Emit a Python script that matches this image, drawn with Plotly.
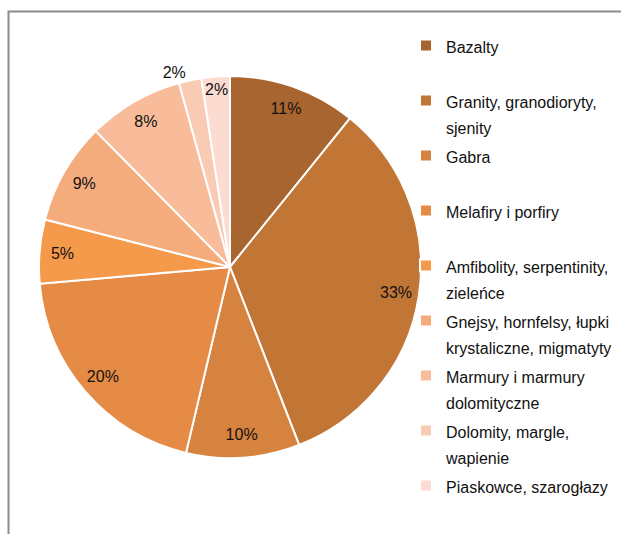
import plotly.graph_objects as go

labels = [
    "Bazalty",
    "Granity, granodioryty,<br>sjenity",
    "Gabra",
    "Melafiry i porfiry",
    "Amfibolity, serpentinity,<br>zieleńce",
    "Gnejsy, hornfelsy, łupki<br>krystaliczne, migmatyty",
    "Marmury i marmury<br>dolomityczne",
    "Dolomity, margle,<br>wapienie",
    "Piaskowce, szarogłazy",
]
values = [10.8, 33.3, 9.6, 19.9, 5.4, 8.6, 8.1, 1.9, 2.4]
colors = ["#A9652F", "#C27636", "#D6833F", "#E68B45", "#F5994A",
          "#F5AC7D", "#F8BC9A", "#F9CBB4", "#FCDCD1"]
label_pos = ["inside"] * 7 + ["outside", "inside"]

FONT = "Liberation Sans Narrow, Arial Narrow, Liberation Sans, Arial, sans-serif"

def legend_text(s):
    t = s if "<br>" in s else s + "<br> "
    return "<span style='font-size:16px'>" + t + "</span>"

leg_labels = [legend_text(s) for s in labels]

W, H = 621, 534
cx, cy, R = 230, 267, 191
dom_x = [(cx - R) / W, (cx + R) / W]
dom_y = [1 - (cy + R) / H, 1 - (cy - R) / H]

fig = go.Figure()
fig.add_trace(go.Pie(
    labels=leg_labels, values=values, sort=False, direction="clockwise",
    rotation=0, marker=dict(colors=colors, line=dict(color="white", width=2)),
    textinfo="none", domain=dict(x=dom_x, y=dom_y), hoverinfo="percent",
))
fig.add_trace(go.Pie(
    labels=leg_labels, values=values, sort=False, direction="clockwise",
    rotation=0, hole=0.76, showlegend=False, hoverinfo="skip",
    marker=dict(colors=["rgba(0,0,0,0)"] * len(values), line=dict(width=0)),
    texttemplate="%{percent:.0%}", textposition=label_pos,
    insidetextorientation="horizontal",
    textfont=dict(family=FONT, size=16, color="#111111"),
    domain=dict(x=dom_x, y=dom_y),
))

fig.update_layout(
    width=W, height=H,
    margin=dict(l=0, r=0, t=0, b=0, autoexpand=False),
    paper_bgcolor="white", plot_bgcolor="white",
    uniformtext=dict(mode="show", minsize=16),
    legend=dict(
        x=406 / W, y=1 - 26 / H, xanchor="left", yanchor="top",
        font=dict(family=FONT, size=20, color="#111111"),
        valign="top", bgcolor="rgba(0,0,0,0)", tracegroupgap=0,
    ),
    shapes=[dict(type="rect", xref="paper", yref="paper",
                 x0=8.5 / W, x1=1.2, y0=-0.2, y1=1 - 11.5 / H,
                 line=dict(color="#8C8C8C", width=2), layer="below")],
)

fig.write_html("out.html", config={"displayModeBar": False},
               post_script="document.body.style.margin='0';")
